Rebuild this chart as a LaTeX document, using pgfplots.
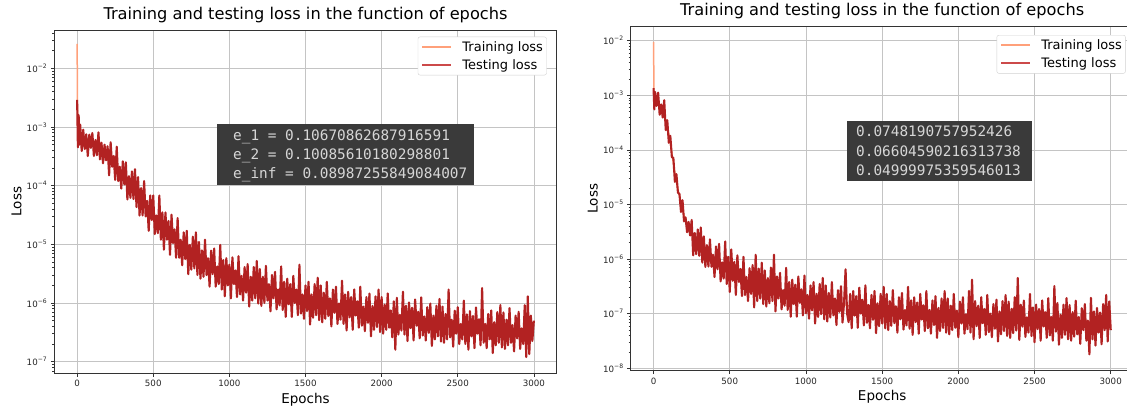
\documentclass[border=0pt]{standalone}
\usepackage{fontspec}
\setmainfont{DejaVu Sans}
\newfontfamily\monofont{DejaVu Sans Mono}
\usepackage{pgfplots}
\usepackage{pgfplotstable}
\pgfplotsset{compat=1.18}

\definecolor{trainc}{HTML}{FFA07A}
\definecolor{testc}{HTML}{B22222}
\definecolor{testleg}{HTML}{CC4A4A}
\definecolor{gridc}{HTML}{C4C4C4}
\definecolor{boxc}{HTML}{3A3A3A}
\definecolor{boxtext}{HTML}{D6D6D6}

\pgfplotstableread[row sep=\\]{x y\\ 0 2.6e-2\\ 3 1.0e-3\\ 50 5.0e-4\\ 100 4.8e-4\\ 200 3.0e-4\\ 300 1.5e-4\\ 400 7.0e-5\\ 500 3.0e-5\\ 600 1.6e-5\\ 700 9.0e-6\\ 800 5.5e-6\\ 900 4.0e-6\\ 1000 2.8e-6\\ 1200 1.9e-6\\ 1400 1.3e-6\\ 1600 1.0e-6\\ 1800 8.0e-7\\ 2000 6.3e-7\\ 2200 5.2e-7\\ 2400 4.4e-7\\ 2600 3.8e-7\\ 2800 3.6e-7\\ 3000 3.2e-7\\}\lefttrain

\pgfplotstableread[row sep=\\]{x y\\
0 2.9e-3\\ 5 4.5e-4\\ 10 1.6e-3\\ 15 5.0e-4\\ 20 1.1e-3\\ 30 3.9e-4\\ 40 9.0e-4\\ 50 4.2e-4\\ 60 7.5e-4\\ 70 3.2e-4\\ 80 7.4e-4\\ 90 4.4e-4\\ 100 7.9e-4\\ 110 3.2e-4\\ 120 6.0e-4\\ 130 3.3e-4\\ 140 8.1e-4\\ 150 2.8e-4\\ 160 5.4e-4\\ 170 2.4e-4\\ 180 5.0e-4\\ 190 2.7e-4\\
200 4.7e-4\\ 210 1.5e-4\\ 220 5.5e-4\\ 230 2.1e-4\\ 240 3.2e-4\\ 250 1.25e-4\\ 260 4.6e-4\\ 270 1.2e-4\\ 280 2.1e-4\\ 290 8.9e-5\\ 300 2.6e-4\\ 310 1.05e-4\\ 320 2.5e-4\\ 330 5.8e-5\\ 340 1.45e-4\\ 350 6.2e-5\\ 360 1.75e-4\\ 370 5.9e-5\\ 380 1.9e-4\\ 390 4.3e-5\\
400 1.4e-4\\ 410 3.1e-5\\ 420 9.1e-5\\ 430 3.1e-5\\ 440 1.2e-4\\ 450 3.0e-5\\ 460 5.5e-5\\ 470 1.7e-5\\ 480 6.8e-5\\ 490 2.6e-5\\ 500 6.8e-5\\ 510 1.5e-5\\ 520 3.1e-5\\ 530 1.55e-5\\ 540 6.8e-5\\ 550 1.2e-5\\ 560 3.5e-5\\ 570 8.1e-6\\ 580 3.5e-5\\ 590 1.2e-5\\
600 2.5e-5\\ 610 6.6e-6\\ 620 3.2e-5\\ 630 1.05e-5\\ 640 1.8e-5\\ 650 5.9e-6\\ 660 2.8e-5\\ 670 5.9e-6\\ 680 1.2e-5\\ 690 4.4e-6\\ 700 1.6e-5\\ 710 5.6e-6\\ 720 1.7e-5\\ 730 3.1e-6\\ 740 9.8e-6\\ 750 3.7e-6\\ 760 1.35e-5\\ 770 3.9e-6\\ 780 1.6e-5\\ 790 3.0e-6\\
800 1.1e-5\\ 810 2.6e-6\\ 820 7.9e-6\\ 830 2.8e-6\\ 840 1.2e-5\\ 850 3.0e-6\\ 860 5.8e-6\\ 870 1.9e-6\\ 880 7.8e-6\\ 890 3.1e-6\\ 900 8.5e-6\\ 910 1.9e-6\\ 920 4.2e-6\\ 930 2.1e-6\\ 940 9.8e-6\\ 950 1.7e-6\\ 960 5.4e-6\\ 970 1.3e-6\\ 980 5.8e-6\\ 990 2.0e-6\\
1000 4.5e-6\\ 1010 1.2e-6\\ 1020 6.0e-6\\ 1030 2.1e-6\\ 1040 3.6e-6\\ 1050 1.26e-6\\ 1060 6.3e-6\\ 1070 1.4e-6\\ 1080 2.9e-6\\ 1090 1.1e-6\\ 1100 4.1e-6\\ 1110 1.5e-6\\ 1120 4.6e-6\\ 1130 8.7e-7\\ 1140 2.8e-6\\ 1150 1.1e-6\\ 1160 4.1e-6\\ 1170 1.2e-6\\ 1180 5.2e-6\\ 1190 9.8e-7\\
1200 3.8e-6\\ 1210 8.9e-7\\ 1220 2.8e-6\\ 1230 1.0e-6\\ 1240 4.3e-6\\ 1250 1.1e-6\\ 1260 2.1e-6\\ 1270 7.2e-7\\ 1280 3.0e-6\\ 1290 1.2e-6\\ 1300 3.4e-6\\ 1310 7.8e-7\\ 1320 1.7e-6\\ 1330 9.1e-7\\ 1340 4.2e-6\\ 1350 7.6e-7\\ 1360 2.3e-6\\ 1370 5.8e-7\\ 1380 2.6e-6\\ 1390 9.5e-7\\
1400 2.1e-6\\ 1410 5.8e-7\\ 1420 2.9e-6\\ 1430 1.0e-6\\ 1440 1.7e-6\\ 1450 6.2e-7\\ 1460 4.5e-6\\ 1470 6.6e-7\\ 1480 1.4e-6\\ 1490 5.4e-7\\ 1500 2.0e-6\\ 1510 7.3e-7\\ 1520 2.3e-6\\ 1530 4.3e-7\\ 1540 1.4e-6\\ 1550 5.6e-7\\ 1560 2.1e-6\\ 1570 6.2e-7\\ 1580 2.7e-6\\ 1590 5.1e-7\\
1600 2.0e-6\\ 1610 4.7e-7\\ 1620 1.5e-6\\ 1630 5.4e-7\\ 1640 2.3e-6\\ 1650 6.0e-7\\ 1660 1.2e-6\\ 1670 4.0e-7\\ 1680 1.7e-6\\ 1690 6.8e-7\\ 1700 1.9e-6\\ 1710 4.4e-7\\ 1720 9.8e-7\\ 1730 5.2e-7\\ 1740 2.4e-6\\ 1750 4.4e-7\\ 1760 1.4e-6\\ 1770 3.4e-7\\ 1780 1.55e-6\\ 1790 5.7e-7\\
1800 1.26e-6\\ 1810 3.5e-7\\ 1820 1.7e-6\\ 1830 6.1e-7\\ 1840 1.07e-6\\ 1850 3.8e-7\\ 1860 1.9e-6\\ 1870 4.1e-7\\ 1880 8.7e-7\\ 1890 3.3e-7\\ 1900 1.26e-6\\ 1910 4.6e-7\\ 1920 1.45e-6\\ 1930 2.7e-7\\ 1940 8.9e-7\\ 1950 3.5e-7\\ 1960 1.3e-6\\ 1970 3.9e-7\\ 1980 1.7e-6\\ 1990 3.2e-7\\
2000 1.26e-6\\ 2010 3.0e-7\\ 2020 9.4e-7\\ 2030 3.5e-7\\ 2040 1.46e-6\\ 2050 3.8e-7\\ 2060 7.5e-7\\ 2070 2.6e-7\\ 2080 1.07e-6\\ 2090 1.6e-7\\ 2100 1.23e-6\\ 2110 2.9e-7\\ 2120 6.3e-7\\ 2130 3.4e-7\\ 2140 1.56e-6\\ 2150 2.9e-7\\ 2160 9.0e-7\\ 2170 2.25e-7\\ 2180 1.02e-6\\ 2190 3.75e-7\\
2200 8.3e-7\\ 2210 2.3e-7\\ 2220 1.15e-6\\ 2230 4.1e-7\\ 2240 7.1e-7\\ 2250 2.5e-7\\ 2260 1.25e-6\\ 2270 2.8e-7\\ 2280 5.9e-7\\ 2290 2.3e-7\\ 2300 8.5e-7\\ 2310 3.1e-7\\ 2320 9.8e-7\\ 2330 1.85e-7\\ 2340 6.1e-7\\ 2350 2.4e-7\\ 2360 9.0e-7\\ 2370 2.7e-7\\ 2380 1.17e-6\\ 2390 2.2e-7\\
2400 8.7e-7\\ 2410 2.1e-7\\ 2420 6.5e-7\\ 2430 2.4e-7\\ 2440 1.7e-6\\ 2450 2.6e-7\\ 2460 5.2e-7\\ 2470 1.8e-7\\ 2480 7.4e-7\\ 2490 3.0e-7\\ 2500 8.5e-7\\ 2510 2.0e-7\\ 2520 4.4e-7\\ 2530 2.4e-7\\ 2540 1.1e-6\\ 2550 2.0e-7\\ 2560 6.4e-7\\ 2570 1.6e-7\\ 2580 7.3e-7\\ 2590 2.7e-7\\
2600 6.0e-7\\ 2610 1.7e-7\\ 2620 8.4e-7\\ 2630 3.0e-7\\ 2640 5.3e-7\\ 2650 1.9e-7\\ 2660 1.8e-6\\ 2670 2.1e-7\\ 2680 4.4e-7\\ 2690 1.7e-7\\ 2700 6.5e-7\\ 2710 2.4e-7\\ 2720 7.5e-7\\ 2730 1.4e-7\\ 2740 4.7e-7\\ 2750 1.9e-7\\ 2760 7.0e-7\\ 2770 2.1e-7\\ 2780 9.2e-7\\ 2790 1.75e-7\\
2800 6.9e-7\\ 2810 1.65e-7\\ 2820 5.2e-7\\ 2830 1.9e-7\\ 2840 8.2e-7\\ 2850 2.1e-7\\ 2860 4.2e-7\\ 2870 1.5e-7\\ 2880 6.1e-7\\ 2890 2.5e-7\\ 2900 7.1e-7\\ 2910 1.65e-7\\ 2920 3.7e-7\\ 2930 2.0e-7\\ 2940 9.2e-7\\ 2950 1.2e-7\\ 2960 1.3e-6\\ 2970 1.35e-7\\ 2980 6.1e-7\\ 2990 2.25e-7\\ 3000 5.0e-7\\
}\lefttest

\pgfplotstableread[row sep=\\]{x y\\ 0 9.5e-3\\ 3 8.0e-4\\ 50 6.3e-4\\ 100 2.0e-4\\ 150 2.5e-5\\ 200 6.3e-6\\ 250 2.8e-6\\ 300 1.8e-6\\ 400 9.5e-7\\ 500 6.3e-7\\ 600 4.0e-7\\ 800 2.6e-7\\ 1000 1.9e-7\\ 1500 1.1e-7\\ 2000 8.9e-8\\ 2500 7.6e-8\\ 3000 6.3e-8\\}\righttrain

\pgfplotstableread[row sep=\\]{x y\\
0 1.35e-3\\ 5 5.5e-4\\ 10 1.15e-3\\ 20 6.4e-4\\ 30 1.12e-3\\ 40 4.4e-4\\ 50 6.8e-4\\ 60 3.9e-4\\ 70 8.1e-4\\ 80 2.3e-4\\ 90 3.5e-4\\ 100 1.35e-4\\ 110 1.8e-4\\ 120 7.4e-5\\ 130 7.1e-5\\ 140 2.6e-5\\ 150 3.6e-5\\ 160 1.65e-5\\ 170 1.55e-5\\ 180 7.3e-6\\ 190 1.2e-5\\
200 4.9e-6\\ 210 5.8e-6\\ 220 3.1e-6\\ 230 4.8e-6\\ 240 2.7e-6\\ 250 5.2e-6\\ 260 1.17e-6\\ 270 3.0e-6\\ 280 1.23e-6\\ 290 3.5e-6\\ 300 1.15e-6\\ 310 3.8e-6\\ 320 8.6e-7\\ 330 2.6e-6\\ 340 7.2e-7\\ 350 1.8e-6\\ 360 7.3e-7\\ 370 2.3e-6\\ 380 7.2e-7\\ 390 1.2e-6\\
400 4.7e-7\\ 410 1.7e-6\\ 420 6.5e-7\\ 430 1.9e-6\\ 440 3.9e-7\\ 450 8.7e-7\\ 460 4.4e-7\\ 470 2.1e-6\\ 480 3.5e-7\\ 490 1.1e-6\\ 500 2.5e-7\\ 510 1.5e-6\\ 520 4.0e-7\\ 530 8.9e-7\\ 540 2.2e-7\\ 550 1.17e-6\\ 560 3.8e-7\\ 570 6.6e-7\\ 580 2.1e-7\\ 590 1.1e-6\\
600 2.2e-7\\ 610 4.7e-7\\ 620 1.7e-7\\ 630 6.8e-7\\ 640 2.3e-7\\ 650 7.8e-7\\ 660 1.3e-7\\ 670 1.2e-6\\ 680 1.7e-7\\ 690 6.7e-7\\ 700 1.9e-7\\ 710 8.6e-7\\ 720 1.5e-7\\ 730 6.2e-7\\ 740 1.35e-7\\ 750 4.5e-7\\ 760 1.55e-7\\ 770 7.0e-7\\ 780 1.7e-7\\ 790 1.2e-6\\
800 1.1e-7\\ 810 4.8e-7\\ 820 1.9e-7\\ 830 5.6e-7\\ 840 1.2e-7\\ 850 2.7e-7\\ 860 1.4e-7\\ 870 6.9e-7\\ 880 1.17e-7\\ 890 3.8e-7\\ 900 8.8e-8\\ 910 4.2e-7\\ 920 1.5e-7\\ 930 3.4e-7\\ 940 8.8e-8\\ 950 4.8e-7\\ 960 1.57e-7\\ 970 2.8e-7\\ 980 9.3e-8\\ 990 5.0e-7\\
1000 1.02e-7\\ 1010 2.2e-7\\ 1020 8.1e-8\\ 1030 3.3e-7\\ 1040 1.15e-7\\ 1050 3.8e-7\\ 1060 6.6e-8\\ 1070 2.3e-7\\ 1080 8.7e-8\\ 1090 3.5e-7\\ 1100 9.8e-8\\ 1110 4.5e-7\\ 1120 7.9e-8\\ 1130 3.3e-7\\ 1140 7.2e-8\\ 1150 2.4e-7\\ 1160 8.5e-8\\ 1170 3.8e-7\\ 1180 9.3e-8\\ 1190 1.9e-7\\
1200 6.2e-8\\ 1210 2.7e-7\\ 1220 1.08e-7\\ 1230 3.2e-7\\ 1240 6.9e-8\\ 1250 1.6e-7\\ 1260 6.5e-7\\ 1270 1.0e-7\\ 1280 7.0e-8\\ 1290 2.3e-7\\ 1300 5.4e-8\\ 1310 2.6e-7\\ 1320 9.2e-8\\ 1330 2.1e-7\\ 1340 5.5e-8\\ 1350 3.0e-7\\ 1360 1.0e-7\\ 1370 1.8e-7\\ 1380 6.1e-8\\ 1390 3.3e-7\\
1400 6.8e-8\\ 1410 1.45e-7\\ 1420 5.4e-8\\ 1430 2.2e-7\\ 1440 7.7e-8\\ 1450 2.6e-7\\ 1460 4.4e-8\\ 1470 1.55e-7\\ 1480 5.9e-8\\ 1490 2.3e-7\\ 1500 6.6e-8\\ 1510 3.1e-7\\ 1520 5.4e-8\\ 1530 2.3e-7\\ 1540 5.0e-8\\ 1550 1.7e-7\\ 1560 6.0e-8\\ 1570 2.7e-7\\ 1580 6.7e-8\\ 1590 1.37e-7\\
1600 4.5e-8\\ 1610 2.0e-7\\ 1620 7.9e-8\\ 1630 2.4e-7\\ 1640 5.1e-8\\ 1650 1.17e-7\\ 1660 6.1e-8\\ 1670 3.1e-7\\ 1680 5.3e-8\\ 1690 1.75e-7\\ 1700 4.1e-8\\ 1710 2.0e-7\\ 1720 7.0e-8\\ 1730 1.6e-7\\ 1740 4.3e-8\\ 1750 2.3e-7\\ 1760 7.8e-8\\ 1770 1.43e-7\\ 1780 4.8e-8\\ 1790 2.6e-7\\
1800 5.4e-8\\ 1810 1.17e-7\\ 1820 4.3e-8\\ 1830 1.75e-7\\ 1840 6.2e-8\\ 1850 2.1e-7\\ 1860 3.6e-8\\ 1870 1.28e-7\\ 1880 4.8e-8\\ 1890 1.9e-7\\ 1900 5.5e-8\\ 1910 2.6e-7\\ 1920 4.5e-8\\ 1930 1.9e-7\\ 1940 4.2e-8\\ 1950 1.4e-7\\ 1960 5.0e-8\\ 1970 2.3e-7\\ 1980 5.5e-8\\ 1990 1.14e-7\\
2000 3.7e-8\\ 2010 1.66e-7\\ 2020 6.6e-8\\ 2030 2.0e-7\\ 2040 4.3e-8\\ 2050 9.8e-8\\ 2060 5.2e-8\\ 2070 2.6e-7\\ 2080 4.5e-8\\ 2090 4.2e-7\\ 2100 3.4e-8\\ 2110 1.7e-7\\ 2120 5.9e-8\\ 2130 1.4e-7\\ 2140 3.6e-8\\ 2150 2.0e-7\\ 2160 6.7e-8\\ 2170 1.22e-7\\ 2180 4.1e-8\\ 2190 2.2e-7\\
2200 4.6e-8\\ 2210 1.0e-7\\ 2220 3.7e-8\\ 2230 1.5e-7\\ 2240 5.3e-8\\ 2250 1.8e-7\\ 2260 3.1e-8\\ 2270 1.1e-7\\ 2280 4.2e-8\\ 2290 1.7e-7\\ 2300 4.8e-8\\ 2310 2.2e-7\\ 2320 3.9e-8\\ 2330 1.66e-7\\ 2340 3.6e-8\\ 2350 1.23e-7\\ 2360 4.4e-8\\ 2370 2.0e-7\\ 2380 4.9e-8\\ 2390 4.5e-7\\
2400 3.3e-8\\ 2410 1.46e-7\\ 2420 5.8e-8\\ 2430 1.74e-7\\ 2440 3.75e-8\\ 2450 8.6e-8\\ 2460 4.5e-8\\ 2470 2.3e-7\\ 2480 3.9e-8\\ 2490 1.3e-7\\ 2500 3.0e-8\\ 2510 1.47e-7\\ 2520 5.2e-8\\ 2530 1.22e-7\\ 2540 3.2e-8\\ 2550 1.75e-7\\ 2560 5.8e-8\\ 2570 1.07e-7\\ 2580 3.6e-8\\ 2590 1.93e-7\\
2600 4.0e-8\\ 2610 8.7e-8\\ 2620 3.2e-8\\ 2630 3.2e-7\\ 2640 4.7e-8\\ 2650 1.57e-7\\ 2660 2.7e-8\\ 2670 9.6e-8\\ 2680 3.6e-8\\ 2690 1.46e-7\\ 2700 4.1e-8\\ 2710 1.93e-7\\ 2720 3.4e-8\\ 2730 1.44e-7\\ 2740 3.2e-8\\ 2750 1.07e-7\\ 2760 3.8e-8\\ 2770 1.73e-7\\ 2780 4.2e-8\\ 2790 8.7e-8\\
2800 2.8e-8\\ 2810 1.26e-7\\ 2820 5.0e-8\\ 2830 1.5e-7\\ 2840 3.2e-8\\ 2850 7.5e-8\\ 2860 1.8e-8\\ 2870 1.95e-7\\ 2880 3.4e-8\\ 2890 1.1e-7\\ 2900 2.6e-8\\ 2910 1.27e-7\\ 2920 4.5e-8\\ 2930 1.05e-7\\ 2940 2.75e-8\\ 2950 1.5e-7\\ 2960 5.0e-8\\ 2970 2.2e-7\\ 2980 3.1e-8\\ 2990 1.67e-7\\ 3000 5.0e-8\\
}\righttest

\pgfplotsset{
  lossax/.style={
    scale only axis,
    xmin=-150, xmax=3150,
    xtick={0,500,1000,1500,2000,2500,3000},
    grid=major,
    major grid style={draw=gridc, line width=0.7pt},
    axis line style={draw=black!80, line width=0.8pt},
    tick align=outside,
    tick pos=left,
    major tick length=3.5pt,
    minor tick length=2pt,
    major tick style={draw=black!80, line width=0.7pt},
    minor tick style={draw=black!80, line width=0.5pt},
    tick label style={font=\fontsize{8.7}{10}\selectfont, text=black!85},
    /pgf/number format/assume math mode=true,
    /pgf/number format/set thousands separator={},
    scaled x ticks=false,
    title style={font=\fontsize{16.2}{19}\selectfont, at={(0.5,1)}, anchor=base, yshift=5pt},
    xlabel style={font=\fontsize{13.5}{16}\selectfont, at={(axis description cs:0.5,0)}, anchor=base, yshift=-29.7pt},
    ylabel style={font=\fontsize{13.5}{16}\selectfont, at={(axis description cs:0,0.5)}, anchor=base, yshift=33pt},
    legend cell align=left,
    legend image code/.code={\draw[#1] (0pt,0pt) -- (29pt,0pt);},
    legend style={at={(1,1)}, anchor=north east, draw=black!18, fill=white,
      rounded corners=2pt, font=\fontsize{13}{15}\selectfont, inner xsep=3.5pt, inner ysep=4.5pt,
      row sep=6.4pt, column sep=10pt, nodes={inner sep=0pt}},
    every axis plot/.append style={line join=round, mark=none},
  }
}

\begin{document}
\begin{tikzpicture}
\useasboundingbox (0pt,0pt) rectangle (1127pt,408pt);

\begin{axis}[ymode=log, lossax,
  at={(54.3pt,34.7pt)}, anchor=south west, width=502.4pt, height=343.3pt,
  ymin=6.34e-8, ymax=4.49e-2,
  ytick={1e-7,1e-6,1e-5,1e-4,1e-3,1e-2},
  yticklabels={{10\textsuperscript{−7}},{10\textsuperscript{−6}},{10\textsuperscript{−5}},{10\textsuperscript{−4}},{10\textsuperscript{−3}},{10\textsuperscript{−2}}},
  minor ytick={7e-8,8e-8,9e-8,2e-7,3e-7,4e-7,5e-7,6e-7,7e-7,8e-7,9e-7,2e-6,3e-6,4e-6,5e-6,6e-6,7e-6,8e-6,9e-6,2e-5,3e-5,4e-5,5e-5,6e-5,7e-5,8e-5,9e-5,2e-4,3e-4,4e-4,5e-4,6e-4,7e-4,8e-4,9e-4,2e-3,3e-3,4e-3,5e-3,6e-3,7e-3,8e-3,9e-3,2e-2,3e-2,4e-2},
  title={Training and testing loss in the function of epochs},
  xlabel={Epochs}, ylabel={Loss},
  legend style={xshift=-10pt, yshift=-6.7pt},
]
\addplot[trainc, line width=1.5pt, legend image post style={line width=2pt}] table[x=x,y=y]{\lefttrain};
\addlegendentry{Training loss}
\addplot[testc, line width=2.1pt, legend image post style={testleg, line width=2pt}] table[x=x,y=y]{\lefttest};
\addlegendentry{Testing loss}
\end{axis}

\begin{axis}[ymode=log, lossax,
  at={(630.7pt,37.3pt)}, anchor=south west, width=502.9pt, height=344pt,
  ymin=9.03e-9, ymax=1.8e-2,
  ytick={1e-8,1e-7,1e-6,1e-5,1e-4,1e-3,1e-2},
  yticklabels={{10\textsuperscript{−8}},{10\textsuperscript{−7}},{10\textsuperscript{−6}},{10\textsuperscript{−5}},{10\textsuperscript{−4}},{10\textsuperscript{−3}},{10\textsuperscript{−2}}},
  minor ytick={2e-8,3e-8,4e-8,5e-8,6e-8,7e-8,8e-8,9e-8,2e-7,3e-7,4e-7,5e-7,6e-7,7e-7,8e-7,9e-7,2e-6,3e-6,4e-6,5e-6,6e-6,7e-6,8e-6,9e-6,2e-5,3e-5,4e-5,5e-5,6e-5,7e-5,8e-5,9e-5,2e-4,3e-4,4e-4,5e-4,6e-4,7e-4,8e-4,9e-4,2e-3,3e-3,4e-3,5e-3,6e-3,7e-3,8e-3,9e-3},
  title={Training and testing loss in the function of epochs},
  xlabel={Epochs}, ylabel={Loss},
  legend style={xshift=-8pt, yshift=-8.3pt},
]
\addplot[trainc, line width=1.5pt, legend image post style={line width=2pt}] table[x=x,y=y]{\righttrain};
\addlegendentry{Training loss}
\addplot[testc, line width=2.1pt, legend image post style={testleg, line width=2pt}] table[x=x,y=y]{\righttest};
\addlegendentry{Testing loss}
\end{axis}

% annotation boxes
\fill[boxc] (217pt,223pt) rectangle (474pt,284pt);
\begin{scope}[every node/.style={anchor=base west, inner sep=0pt, text=boxtext, font=\monofont\fontsize{14.4}{17}\selectfont}]
\node at (233pt,268pt) {e\_1 = 0.10670862687916591};
\node at (233pt,248.8pt) {e\_2 = 0.10085610180298801};
\node at (233pt,229.6pt) {e\_inf = 0.08987255849084007};
\end{scope}

\fill[boxc] (847pt,227.3pt) rectangle (1031.7pt,287.3pt);
\begin{scope}[every node/.style={anchor=base west, inner sep=0pt, text=boxtext, font=\monofont\fontsize{14.4}{17}\selectfont}]
\node at (856pt,271.8pt) {0.0748190757952426};
\node at (856pt,251.8pt) {0.06604590216313738};
\node at (856pt,232.8pt) {0.04999975359546013};
\end{scope}
\end{tikzpicture}
\end{document}
